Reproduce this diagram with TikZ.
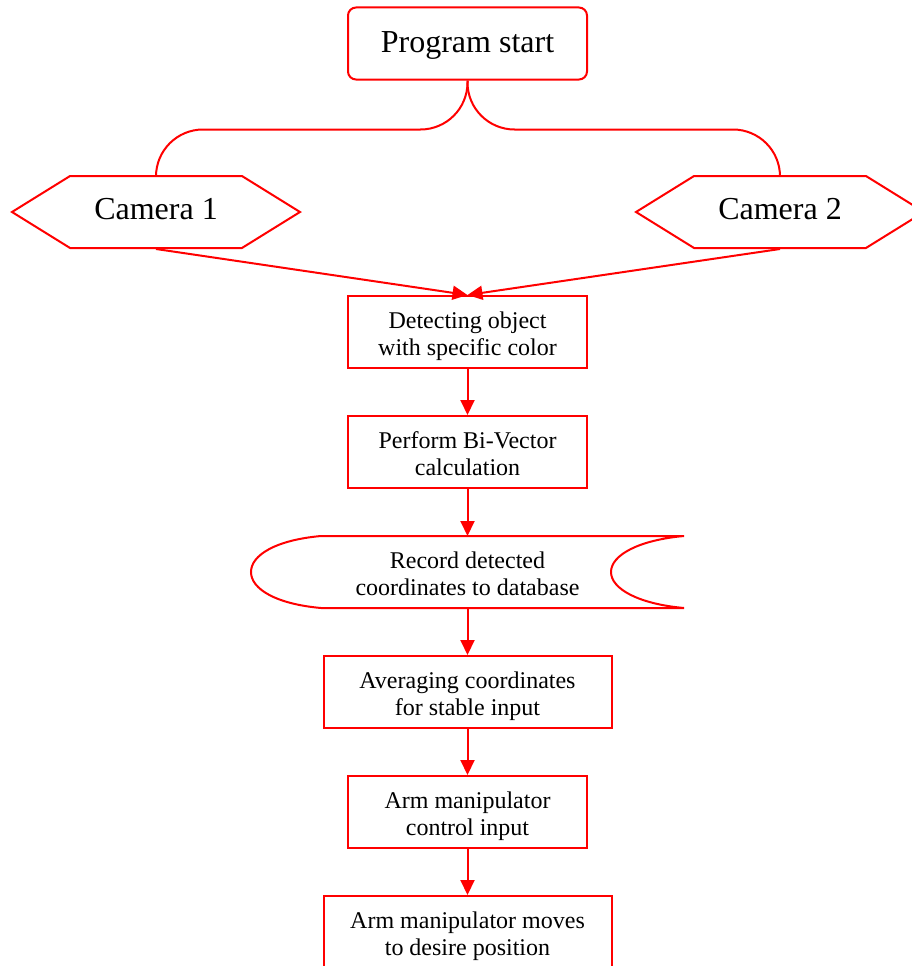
\documentclass[tikz,border=0pt]{standalone}
\usepackage{fontspec}
\setmainfont{Liberation Serif}
\usetikzlibrary{
  arrows.meta,
  shapes.symbols, % Shape "signal"
  calc,
}
\def\mylw{2pt}
\def\myboxw{239pt}
\def\myboxh{72pt}
\tikzset{
  x=1pt,
  y=1pt,
  every picture/.append style={line width=\mylw},
  >={Triangle[length=15pt,width=14pt]},
  big text/.style={
    font=\fontsize{32}{36}\selectfont
  },
  small text/.style={
    font=\fontsize{24}{27}\selectfont,
    align=center,
    text height=52pt,  % push the two lines down a bit
    text depth=5pt
  },
  my start/.style={
    draw=red,
    rectangle,
    rounded corners=8pt,
    minimum width=\myboxw,
    minimum height=72pt,
    text height=25pt,
    big text
  },
  my camera/.style={
    draw=red,
    signal,
    signal to=west and east,
    signal pointer angle=63.6,
    minimum width=288pt,
    minimum height=\myboxh,
    text depth=6pt,
    big text
  },
  my box/.style={
    draw=red,
    rectangle,
    minimum width=\myboxw,
    minimum height=\myboxh,
    small text
  },
  my wide box/.style={
    my box,
    minimum width=288pt
  },
  my record/.style={
    rectangle,
    outer sep=0pt,
    minimum width=433pt,
    minimum height=\myboxh,
    small text
  },
  my line/.style={
    draw=red
  },
  my arrow/.style={
    my line,
    ->
  }
}
\begin{document}
\begin{tikzpicture}
\useasboundingbox (0,0) rectangle (912,-966);
\node[my start] (start) at (467.5,-43.5) {Program start};
\node[my camera] (cam1) at (156,-212) {Camera 1};
\node[my camera] (cam2) at (780,-212) {Camera 2};
\node[my box] (detect) at (467.5,-332) {Detecting object\\with specific color};
\node[my box] (bivec) at (467.5,-452) {Perform Bi-Vector\\calculation};
\node[my record] (record) at (467.5,-572) {Record detected\\coordinates to database};
\node[my wide box] (average) at (467.5,-692) {Averaging coordinates\\for stable input};
\node[my box] (control) at (467.5,-812) {Arm manipulator\\control input};
\node[my wide box] (moves) at (467.5,-932) {Arm manipulator moves\\to desire position};
% stored data outline
\draw[my line] ([xshift=70pt]record.north west) -- (record.north east)
  .. controls +(-45,-4) and +(0,17) .. ([xshift=-73pt]record.east)
  .. controls +(0,-17) and +(-45,4) .. (record.south east)
  -- ([xshift=70pt]record.south west)
  .. controls +(-45,4) and +(0,-17) .. (record.west)
  .. controls +(0,17) and +(-45,-4) .. ([xshift=70pt]record.north west);
\draw[my line,rounded corners=47pt] (start.south) -- ++(0,-49) -| (cam1.north);
\draw[my line,rounded corners=47pt] (start.south) -- ++(0,-49) -| (cam2.north);
\draw[my arrow] (cam1.south) -- (detect.north);
\draw[my arrow] (cam2.south) -- (detect.north);
\draw[my arrow] (detect) -- (bivec);
\draw[my arrow] (bivec) -- (record);
\draw[my arrow] (record) -- (average);
\draw[my arrow] (average) -- (control);
\draw[my arrow] (control) -- (moves);
\end{tikzpicture}
\end{document}
